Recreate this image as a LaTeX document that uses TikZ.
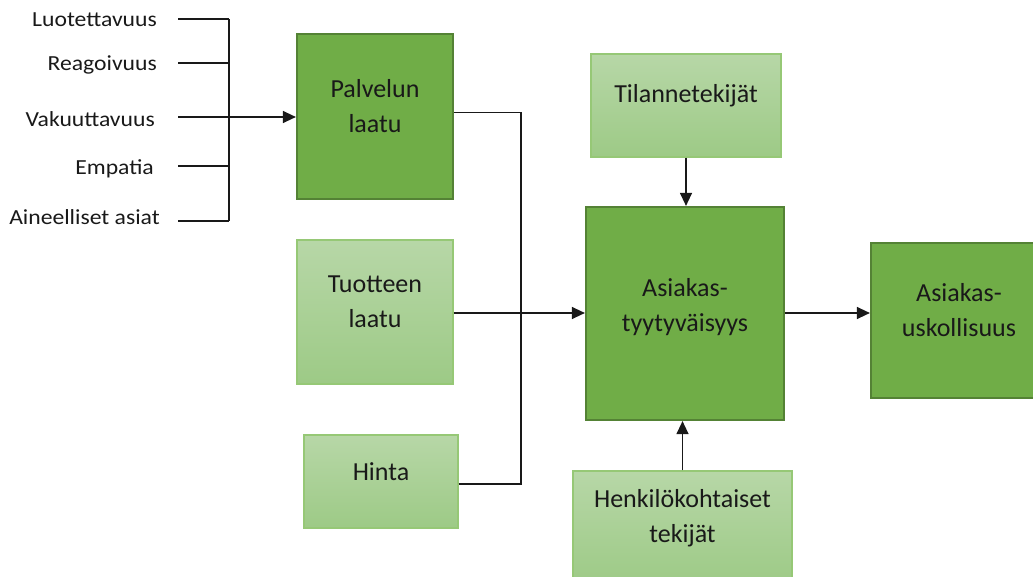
\documentclass[tikz,border=0pt]{standalone}
\usepackage{fontspec}
\setmainfont{Carlito}
\newfontfamily\itemfont[FakeStretch=1.1]{Carlito}
\usetikzlibrary{arrows.meta, positioning, calc}
\definecolor{satgreen}{RGB}{112,173,71}
\definecolor{satedge}{RGB}{84,130,53}
\definecolor{palegreentop}{RGB}{183,215,167}
\definecolor{palegreenbot}{RGB}{157,202,134}
\definecolor{paleedge}{RGB}{150,200,118}

\begin{document}
\begin{tikzpicture}[x=1pt, y=-1pt,
  darkbox/.style={draw=satedge, line width=2.2pt, fill=satgreen, inner sep=0pt},
  lightbox/.style={draw=paleedge, line width=1.4pt, top color=palegreentop, bottom color=palegreenbot, inner sep=0pt},
  boxtext/.style={font=\fontsize{26}{35}\selectfont, align=center, inner sep=0pt, text=black!90},
  itemtext/.style={font=\itemfont\fontsize{21.5}{25}\selectfont, anchor=base east, inner sep=0pt, text=black!90},
  conn/.style={line width=1.3pt, black!90},
  arr/.style={conn, -{Triangle[length=13pt, width=12pt]}}]
\clip (0,0) rectangle (1033,577);

% service quality dimensions on the left
\node[itemtext] (luot) at (157,27) {Luotettavuus};
\node[itemtext] (reag) at (157,71) {Reagoivuus};
\node[itemtext] (vaku) at (155,127) {Vakuuttavuus};
\node[itemtext] (empa) at (154,175) {Empatia};
\node[itemtext] (aine) at (160,225) {Aineelliset asiat};
\coordinate (s1) at (178,19);
\coordinate (s2) at (178,63);
\coordinate (s3) at (178,117);
\coordinate (s4) at (178,166);
\coordinate (s5) at (178,221);
\coordinate (bus) at (229,19);

% boxes
\node[darkbox, minimum width=156, minimum height=165] (palvelu) at (375,116.5) {};
\node[boxtext] (palvelu-t) at ([yshift=10pt]palvelu.center) {Palvelun\\laatu};
\node[lightbox, minimum width=156, minimum height=144] (tuote) at (375,312) {};
\node[boxtext] (tuote-t) at ([yshift=10pt]tuote.center) {Tuotteen\\laatu};
\node[lightbox, minimum width=154, minimum height=93] (hinta) at (381,481.5) {};
\node[boxtext] (hinta-t) at ([yshift=10pt]hinta.center) {Hinta};
\node[lightbox, minimum width=190, minimum height=103] (tilanne) at (686,105.5) {};
\node[boxtext] (tilanne-t) at ([yshift=10pt]tilanne.center) {Tilannetekijät};
\node[darkbox, minimum width=198, minimum height=213] (asiakas) at (685,313.5) {};
\node[boxtext] (asiakas-t) at ([yshift=6pt]asiakas.center) {Asiakas-\\tyytyväisyys};
\node[darkbox, minimum width=176, minimum height=155] (usko) at (959,320.5) {};
\node[boxtext] (usko-t) at ([yshift=10pt]usko.center) {Asiakas-\\uskollisuus};
\node[lightbox, minimum width=219, minimum height=114] (henkilo) at (682.5,528) {};
\node[boxtext] (henkilo-t) at ([yshift=10pt]henkilo.center) {Henkilökohtaiset\\tekijät};

% connectors
\foreach \s in {s1,s2,s3,s4,s5}
  \draw[conn] (\s) -- (\s -| bus);
\draw[conn] (s1 -| bus) -- (s5 -| bus);
\draw[arr] (s3) -- (s3 -| palvelu.west);

\coordinate (merge) at (521,313);
\draw[conn] ([yshift=4pt]palvelu.east) -| (merge);
\draw[conn] ([yshift=-2.5pt]hinta.east) -| (merge);
\draw[arr] (tuote.east |- merge) -- (merge -| asiakas.west);
\draw[arr] (tilanne.south) -- (tilanne.south |- asiakas.north);
\draw[arr] (henkilo.north) -- (henkilo.north |- asiakas.south);
\draw[arr] (asiakas.east |- merge) -- (merge -| usko.west);
\end{tikzpicture}
\end{document}
